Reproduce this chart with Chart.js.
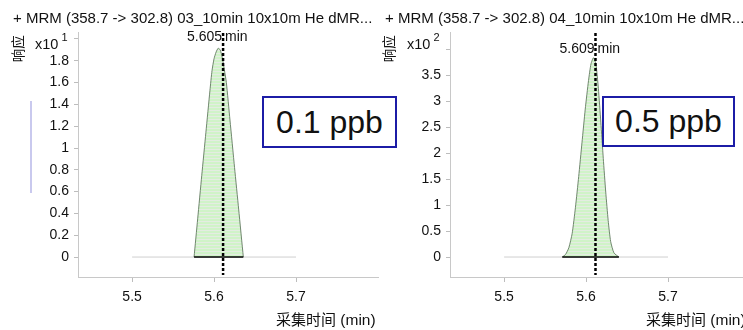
<!DOCTYPE html>
<html>
<head>
<meta charset="utf-8">
<script src="https://cdn.jsdelivr.net/npm/chart.js@4/dist/chart.umd.min.js"></script>
<style>
  html, body { margin: 0; padding: 0; background: #fff; }
  #wrap { position: relative; width: 743px; height: 330px; overflow: hidden; background: #fff;
          font-family: "Liberation Sans", Arial, sans-serif; color: #111; }
  canvas { position: absolute; top: 0; }
  .t { position: absolute; white-space: nowrap; line-height: 1; }
  .title { font-size: 15px; top: 10px; }
  .ylab { font-size: 13.5px; font-family: "Noto Sans CJK SC", sans-serif; transform: rotate(-90deg); transform-origin: center; }
  .exp { font-size: 14.5px; }
  .exp sup { font-size: 11px; position: relative; top: -2px; margin-left: 3px; }
  .xlab { font-size: 15.5px; top: 311px; }
  .xlab .cjk { font-family: "Noto Sans CJK SC", sans-serif; font-size: 15px; }
  .box { position: absolute; border: 2px solid #1c1ca6; background: #fff; box-sizing: border-box;
         font-size: 32px; display: flex; align-items: center; justify-content: center; z-index: 5; }
  .bar { position: absolute; left: 30px; top: 101px; width: 1.5px; height: 92px; background: #c9c9ee; }
</style>
</head>
<body>
<div id="wrap">
  <canvas id="c1" width="380" height="330" style="left:0px"></canvas>
  <canvas id="c2" width="380" height="330" style="left:372px"></canvas>

  <div class="t title" style="left:13px">+ MRM (358.7 -&gt; 302.8) 03_10min 10x10m He dMR...</div>
  <div class="t title" style="left:385px">+ MRM (358.7 -&gt; 302.8) 04_10min 10x10m He dMR...</div>

  <div class="t ylab" style="left:4px; top:42px">响应</div>
  <div class="t ylab" style="left:375px; top:42px">响应</div>

  <div class="t exp" style="left:35px; top:34px">x10<sup>1</sup></div>
  <div class="t exp" style="left:407px; top:34px">x10<sup>2</sup></div>

  <div class="t xlab" style="left:276px"><span class="cjk">采集时间</span> (min)</div>
  <div class="t xlab" style="left:646px"><span class="cjk">采集时间</span> (min)</div>

  <div class="bar"></div>

  <div class="box" style="left:262px; top:96px; width:135px; height:52px">0.1 ppb</div>
  <div class="box" style="left:602px; top:96px; width:133px; height:51px">0.5 ppb</div>
</div>

<script>
// ---- 0.1 ppb run (response in units of 10^1) ----
const times1 = [5.5756, 5.5800, 5.5850, 5.5900, 5.5950, 5.5975, 5.6000, 5.6025, 5.6050,
                5.6075, 5.6100, 5.6125, 5.6150, 5.6194, 5.6250, 5.6300, 5.6357];
const resp1  = [0, 0.35, 0.75, 1.14, 1.53, 1.71, 1.82, 1.88, 1.915,
                1.90, 1.83, 1.72, 1.60, 1.257, 0.82, 0.44, 0];
const rt1 = 5.605;             // labelled retention time
const expectedRt1 = 5.611;     // dashed RT marker
const yTicks1 = [0, 0.2, 0.4, 0.6, 0.8, 1, 1.2, 1.4, 1.6, 1.8, 2];
const yRange1 = [-0.183, 2.064];

// ---- 0.5 ppb run (response in units of 10^2) ----
const times2 = [5.5710, 5.5750, 5.5790, 5.5830, 5.5870, 5.5910, 5.5950, 5.5990, 5.6030, 5.6060,
                5.6090, 5.6120, 5.6150, 5.6180, 5.6210, 5.6240, 5.6270, 5.6300, 5.6340, 5.6400];
const resp2  = [0, 0.05, 0.18, 0.45, 0.95, 1.55, 2.20, 2.85, 3.40, 3.72,
                3.84, 3.72, 3.25, 2.60, 1.90, 1.25, 0.70, 0.30, 0.08, 0];
const rt2 = 5.609;
const expectedRt2 = 5.6115;
const yTicks2 = [0, 0.5, 1, 1.5, 2, 2.5, 3, 3.5, 4];
const yRange2 = [-0.385, 4.335];

// shared time axis
const xTicks = [5.5, 5.6, 5.7];
const xRange = [5.434, 5.8];
const baselineSpan = [5.5, 5.7];

const FONT = { family: '"Liberation Sans", Arial, sans-serif', size: 14 };

function stripePattern() {
  const c = document.createElement('canvas');
  c.width = 4; c.height = 3;
  const g = c.getContext('2d');
  g.fillStyle = '#d0f3c8'; g.fillRect(0, 0, 4, 3);
  g.fillStyle = '#e4ece2'; g.fillRect(0, 2, 4, 1);
  return g.createPattern(c, 'repeat');
}

// dashed retention-time marker plus the peak label above the apex
const rtMarker = {
  id: 'rtMarker',
  afterDatasetsDraw(chart, args, opts) {
    const { ctx, chartArea, scales } = chart;
    const x = scales.x.getPixelForValue(opts.marker);
    ctx.save();
    ctx.strokeStyle = '#000';
    ctx.lineWidth = 2.5;
    ctx.setLineDash([3, 2]);
    ctx.beginPath();
    ctx.moveTo(x, chartArea.top + 1);
    ctx.lineTo(x, chartArea.bottom - 2);
    ctx.stroke();
    ctx.setLineDash([]);
    const yTop = scales.y.getPixelForValue(opts.apex) - opts.lift;
    ctx.font = '14px "Liberation Sans", Arial, sans-serif';
    ctx.fillStyle = '#111';
    ctx.textBaseline = 'bottom';
    ctx.textAlign = 'right';
    ctx.fillText(opts.rt.toFixed(3), x - 1, yTop);
    ctx.textAlign = 'left';
    ctx.fillText('min', x + 2, yTop);
    ctx.restore();
  }
};

function makeChart(id, times, resp, rt, marker, yTicks, yRange, lift) {
  const peak = times.map((t, i) => ({ x: t, y: resp[i] }));
  const top = yTicks[yTicks.length - 1];
  return new Chart(document.getElementById(id), {
    type: 'line',
    data: {
      datasets: [
        { // integration baseline under the peak
          data: [{ x: times[0], y: 0 }, { x: times[times.length - 1], y: 0 }],
          borderColor: '#000', borderWidth: 1.6, pointRadius: 0, fill: false
        },
        { // peak
          data: peak,
          borderColor: '#627a60', borderWidth: 0.9, pointRadius: 0, tension: 0.2,
          fill: 'origin', backgroundColor: stripePattern()
        },
        { // chromatogram baseline
          data: baselineSpan.map(t => ({ x: t, y: 0 })),
          borderColor: '#cfcfcf', borderWidth: 1, pointRadius: 0, fill: false
        }
      ]
    },
    options: {
      responsive: false, animation: false, devicePixelRatio: 1,
      layout: { padding: { top: 32, right: 2, left: 0, bottom: 0 } },
      plugins: {
        legend: { display: false }, tooltip: { enabled: false },
        rtMarker: { marker, apex: Math.max(...resp), rt, lift }
      },
      scales: {
        x: {
          type: 'linear', min: xRange[0], max: xRange[1],
          afterBuildTicks: s => { s.ticks = xTicks.map(v => ({ value: v })); },
          afterFit: s => { s.height = 53; },
          border: { color: '#c8c8c8', width: 1 },
          grid: { drawOnChartArea: false, drawTicks: true, tickLength: 5, color: '#bdbdbd' },
          ticks: { padding: 7, font: FONT, color: '#111', maxRotation: 0,
                   callback: v => v.toFixed(1) }
        },
        y: {
          type: 'linear', min: yRange[0], max: yRange[1],
          afterBuildTicks: s => { s.ticks = yTicks.map(v => ({ value: v })); },
          afterFit: s => { s.width = 78; },
          border: { color: '#c8c8c8', width: 1 },
          grid: { drawOnChartArea: false, drawTicks: true, tickLength: 4, color: '#bdbdbd' },
          ticks: { padding: 5, font: FONT, color: '#111',
                   callback: v => (v === top ? '' : String(Number(v.toFixed(1)))) }
        }
      }
    },
    plugins: [rtMarker]
  });
}

makeChart('c1', times1, resp1, rt1, expectedRt1, yTicks1, yRange1, 4);
makeChart('c2', times2, resp2, rt2, expectedRt2, yTicks2, yRange2, 2);
</script>
</body>
</html>
